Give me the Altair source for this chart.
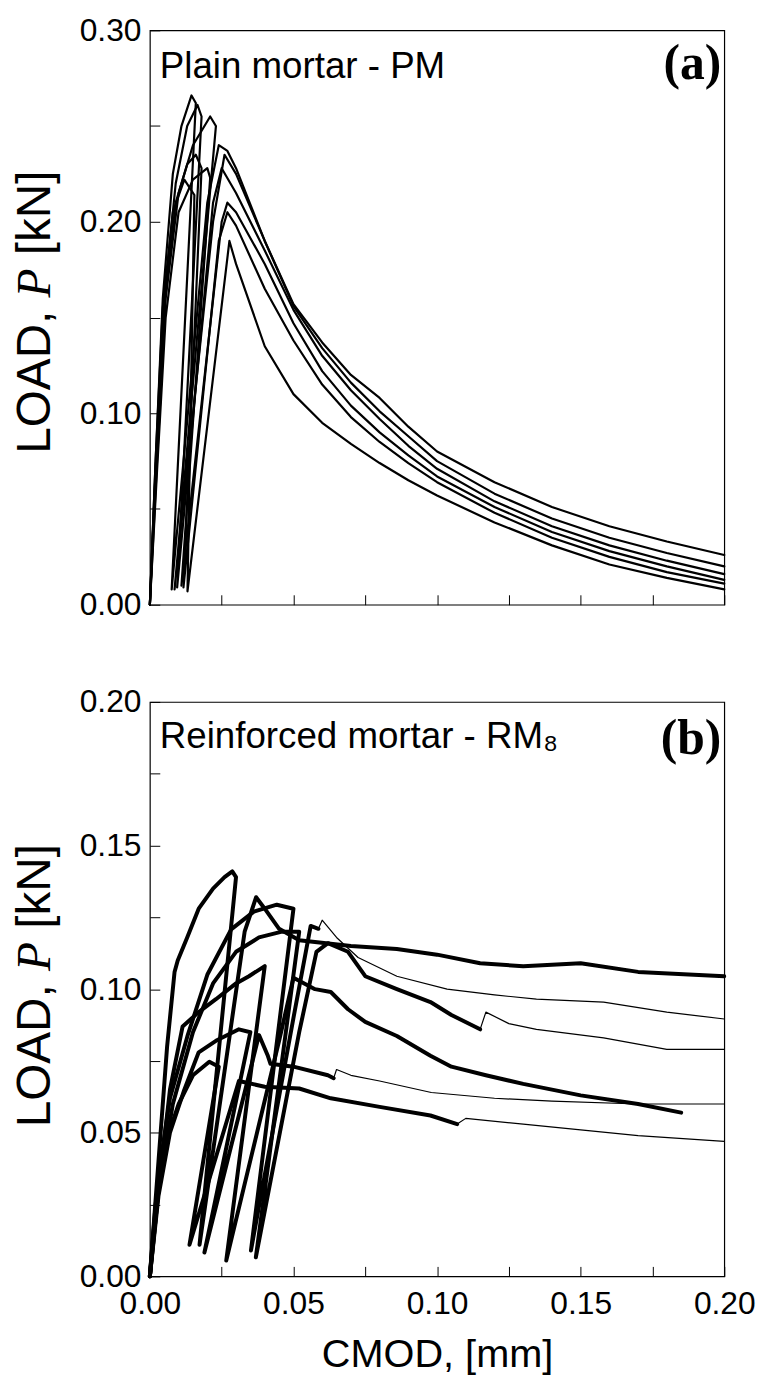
import altair as alt
import pandas as pd

# ---------------- Panel (a): Plain mortar - PM  (CMOD [mm], LOAD [kN]) ----------------
pm1_x = [0, 0.002, 0.0045, 0.008, 0.012, 0.0155, 0.0131, 0.0277, 0.03, 0.04, 0.05, 0.06, 0.07, 0.08, 0.09, 0.10, 0.12, 0.14, 0.16, 0.18, 0.20]
pm1_y = [0, 0.075, 0.155, 0.205, 0.222, 0.214, 0.007, 0.190, 0.178, 0.135, 0.110, 0.095, 0.084, 0.074, 0.065, 0.057, 0.043, 0.031, 0.021, 0.014, 0.008]

pm2_x = [0, 0.002, 0.005, 0.009, 0.013, 0.016, 0.018, 0.0117, 0.024, 0.027, 0.03, 0.04, 0.05, 0.06, 0.07, 0.08, 0.09, 0.10, 0.12, 0.14, 0.16, 0.18, 0.20]
pm2_y = [0, 0.070, 0.155, 0.210, 0.230, 0.235, 0.228, 0.009, 0.190, 0.205, 0.198, 0.165, 0.138, 0.115, 0.098, 0.085, 0.074, 0.064, 0.048, 0.035, 0.025, 0.017, 0.011]

pm3_x = [0, 0.0025, 0.0055, 0.010, 0.015, 0.020, 0.021, 0.011, 0.025, 0.027, 0.03, 0.04, 0.05, 0.06, 0.07, 0.08, 0.09, 0.10, 0.12, 0.14, 0.16, 0.18, 0.20]
pm3_y = [0, 0.070, 0.150, 0.205, 0.222, 0.228, 0.223, 0.010, 0.200, 0.210, 0.205, 0.178, 0.147, 0.122, 0.104, 0.090, 0.078, 0.067, 0.051, 0.038, 0.028, 0.020, 0.013]

pm4_x = [0, 0.002, 0.005, 0.009, 0.013, 0.0166, 0.018, 0.0095, 0.022, 0.025, 0.03, 0.04, 0.05, 0.06, 0.07, 0.08, 0.09, 0.10, 0.12, 0.14, 0.16, 0.18, 0.20]
pm4_y = [0, 0.070, 0.160, 0.220, 0.250, 0.261, 0.255, 0.009, 0.210, 0.228, 0.215, 0.185, 0.154, 0.130, 0.112, 0.097, 0.083, 0.071, 0.054, 0.041, 0.031, 0.023, 0.016]

pm5_x = [0, 0.0025, 0.0055, 0.010, 0.015, 0.021, 0.023, 0.0086, 0.022, 0.026, 0.03, 0.04, 0.05, 0.06, 0.07, 0.08, 0.09, 0.10, 0.12, 0.14, 0.16, 0.18, 0.20]
pm5_y = [0, 0.075, 0.160, 0.215, 0.240, 0.255, 0.250, 0.008, 0.200, 0.235, 0.225, 0.190, 0.156, 0.134, 0.116, 0.101, 0.088, 0.075, 0.058, 0.045, 0.035, 0.027, 0.020]

pm6_x = [0, 0.002, 0.0045, 0.008, 0.011, 0.0145, 0.016, 0.0076, 0.020, 0.024, 0.027, 0.03, 0.04, 0.05, 0.06, 0.07, 0.08, 0.09, 0.10, 0.12, 0.14, 0.16, 0.18, 0.20]
pm6_y = [0, 0.075, 0.160, 0.225, 0.250, 0.266, 0.262, 0.008, 0.210, 0.240, 0.237, 0.228, 0.190, 0.157, 0.137, 0.120, 0.108, 0.093, 0.080, 0.064, 0.051, 0.041, 0.033, 0.026]

# ---------------- Panel (b): Reinforced mortar - RM8 ----------------
rm1_x = [0, 0.003, 0.006, 0.0086, 0.0097, 0.013, 0.017, 0.022, 0.026, 0.0287, 0.030, 0.0173, 0.033, 0.037, 0.040, 0.045, 0.052, 0.070, 0.086, 0.100, 0.115, 0.130, 0.150, 0.170, 0.200]
rm1_y = [0, 0.040, 0.080, 0.106, 0.110, 0.118, 0.128, 0.135, 0.139, 0.141, 0.139, 0.011, 0.120, 0.132, 0.128, 0.121, 0.117, 0.115, 0.114, 0.112, 0.109, 0.108, 0.109, 0.106, 0.1045]

rm2_x = [0, 0.003, 0.007, 0.0131, 0.020, 0.0283, 0.0362, 0.0442, 0.050, 0.0352, 0.050, 0.056, 0.0587]
rm2_y = [0, 0.035, 0.062, 0.0837, 0.105, 0.1208, 0.127, 0.1294, 0.128, 0.009, 0.090, 0.122, 0.121]
rm2_thin_x = [0.0587, 0.060, 0.065, 0.0725, 0.086, 0.1035, 0.120, 0.1346, 0.158, 0.180, 0.200]
rm2_thin_y = [0.121, 0.124, 0.118, 0.111, 0.1045, 0.100, 0.098, 0.0965, 0.0955, 0.092, 0.0896]

rm3_x = [0, 0.003, 0.008, 0.015, 0.022, 0.030, 0.038, 0.046, 0.052, 0.0369, 0.052, 0.058, 0.062, 0.069, 0.075, 0.086, 0.0977, 0.105, 0.115]
rm3_y = [0, 0.030, 0.060, 0.085, 0.102, 0.113, 0.118, 0.120, 0.120, 0.0066, 0.085, 0.113, 0.116, 0.113, 0.1045, 0.100, 0.0955, 0.091, 0.086]
rm3_thin_x = [0.115, 0.117, 0.125, 0.1346, 0.158, 0.180, 0.200]
rm3_thin_y = [0.086, 0.092, 0.088, 0.086, 0.083, 0.079, 0.079]

rm4_x = [0, 0.003, 0.007, 0.0114, 0.017, 0.023, 0.030, 0.0345, 0.040, 0.0266, 0.045, 0.050, 0.0575, 0.063, 0.069, 0.075, 0.086, 0.0977, 0.105, 0.117, 0.130, 0.150, 0.170, 0.185]
rm4_y = [0, 0.030, 0.065, 0.087, 0.092, 0.0965, 0.102, 0.1045, 0.108, 0.0055, 0.082, 0.104, 0.100, 0.099, 0.093, 0.0886, 0.0837, 0.0768, 0.073, 0.070, 0.067, 0.063, 0.060, 0.057]

rm5_x = [0, 0.003, 0.007, 0.012, 0.017, 0.023, 0.031, 0.035, 0.019, 0.038, 0.041, 0.042, 0.050, 0.062, 0.064]
rm5_y = [0, 0.028, 0.050, 0.065, 0.078, 0.082, 0.086, 0.085, 0.0083, 0.084, 0.077, 0.074, 0.073, 0.070, 0.069]
rm5_thin_x = [0.064, 0.065, 0.070, 0.080, 0.098, 0.120, 0.140, 0.170, 0.200]
rm5_thin_y = [0.069, 0.072, 0.070, 0.068, 0.064, 0.062, 0.061, 0.060, 0.060]

rm6_x = [0, 0.002, 0.005, 0.010, 0.015, 0.0207, 0.024, 0.0138, 0.031, 0.040, 0.052, 0.063, 0.080, 0.0977, 0.107]
rm6_y = [0, 0.025, 0.045, 0.060, 0.070, 0.0747, 0.073, 0.011, 0.068, 0.066, 0.0654, 0.062, 0.059, 0.056, 0.053]
rm6_thin_x = [0.107, 0.110, 0.130, 0.150, 0.170, 0.200]
rm6_thin_y = [0.053, 0.055, 0.053, 0.051, 0.049, 0.047]

x_ticks = [0, 0.025, 0.05, 0.075, 0.10, 0.125, 0.15, 0.175, 0.20]
pm_y_ticks = [0, 0.05, 0.10, 0.15, 0.20, 0.25, 0.30]
rm_y_ticks = [0, 0.025, 0.05, 0.075, 0.10, 0.125, 0.15, 0.175, 0.20]

# ---------------- build tables ----------------
def build(series):
    rows = []
    for name, xs, ys in series:
        for i, (a, b) in enumerate(zip(xs, ys)):
            rows.append({"series": name, "i": i, "x": a, "y": b})
    return pd.DataFrame(rows)

pm_df = build([("pm1", pm1_x, pm1_y), ("pm2", pm2_x, pm2_y), ("pm3", pm3_x, pm3_y),
               ("pm4", pm4_x, pm4_y), ("pm5", pm5_x, pm5_y), ("pm6", pm6_x, pm6_y)])
rm_thick_df = build([("rm1", rm1_x, rm1_y), ("rm2", rm2_x, rm2_y), ("rm3", rm3_x, rm3_y),
                     ("rm4", rm4_x, rm4_y), ("rm5", rm5_x, rm5_y), ("rm6", rm6_x, rm6_y)])
rm_thin_df = build([("rm2t", rm2_thin_x, rm2_thin_y), ("rm3t", rm3_thin_x, rm3_thin_y),
                    ("rm5t", rm5_thin_x, rm5_thin_y), ("rm6t", rm6_thin_x, rm6_thin_y)])

SANS = "Liberation Sans"
SERIF = "Liberation Serif"
W = 579
H = 579
TS = 48  # y-title font size


def panel(dfs, ymax, yticks, ymult, label, letter, label_y, letter_y, show_x, title_center):
    x_axis = alt.Axis(
        values=x_ticks, offset=-10, tickSize=10, domain=False, grid=False,
        labels=show_x, labelFlush=False,
        labelExpr="abs(datum.value*20 - round(datum.value*20)) < 0.001 ? format(datum.value, '.2f') : ''",
        labelPadding=12, title="CMOD, [mm]" if show_x else None, titlePadding=16,
    )
    y_axis = alt.Axis(
        values=yticks, offset=-10, tickSize=10, domain=False, grid=False, labelFlush=False,
        labelExpr=f"abs(datum.value*{ymult} - round(datum.value*{ymult})) < 0.001 ? format(datum.value, '.2f') : ''",
        labelPadding=9, title=None,
    )
    xs = alt.Scale(domain=[0, 0.2], nice=False, zero=False)
    ys = alt.Scale(domain=[0, ymax], nice=False, zero=False)
    layers = []
    for df, sw in dfs:
        layers.append(
            alt.Chart(df).mark_line(color="black", strokeWidth=sw, strokeJoin="round", strokeCap="round").encode(
                x=alt.X("x:Q", scale=xs, axis=x_axis),
                y=alt.Y("y:Q", scale=ys, axis=y_axis),
                detail="series:N",
                order="i:Q",
            )
        )
    txt = alt.Chart(pd.DataFrame({"t": [label]})).mark_text(
        align="left", baseline="alphabetic", font=SANS, fontSize=37, color="black"
    ).encode(text="t:N", x=alt.value(10), y=alt.value(label_y))
    let = alt.Chart(pd.DataFrame({"t": [letter]})).mark_text(
        align="right", baseline="alphabetic", font=SERIF, fontSize=50, fontWeight="bold", color="black"
    ).encode(text="t:N", x=alt.value(576), y=alt.value(letter_y))
    # y-axis title "LOAD, P [kN]" with an italic serif P, written bottom-to-top
    y0 = title_center + 5.946 * TS / 2
    bx = -101
    t1 = alt.Chart(pd.DataFrame({"t": ["LOAD,"]})).mark_text(
        align="left", baseline="alphabetic", angle=270, font=SANS, fontSize=TS, color="black"
    ).encode(text="t:N", x=alt.value(bx), y=alt.value(y0))
    t2 = alt.Chart(pd.DataFrame({"t": ["P"]})).mark_text(
        align="left", baseline="alphabetic", angle=270, font=SERIF, fontStyle="italic", fontSize=TS, color="black"
    ).encode(text="t:N", x=alt.value(bx), y=alt.value(y0 - 3.279 * TS))
    t3 = alt.Chart(pd.DataFrame({"t": ["[kN]"]})).mark_text(
        align="left", baseline="alphabetic", angle=270, font=SANS, fontSize=TS, color="black"
    ).encode(text="t:N", x=alt.value(bx), y=alt.value(y0 - (3.279 + 0.611 + 0.278) * TS))
    return alt.layer(*layers, txt, let, t1, t2, t3).properties(width=W, height=H)


top = panel([(pm_df, 2.2)], 0.30, pm_y_ticks, 10, "Plain mortar - PM", "(a)", 48, 49, False, 284)
bottom = panel([(rm_thick_df, 4.0), (rm_thin_df, 1.2)], 0.20, rm_y_ticks, 20,
               "Reinforced mortar - RM\u2088", "(b)", 46, 52, True, 286)

chart = alt.vconcat(top, bottom, spacing=64).properties(
    padding={"left": 3, "top": 0, "right": 0, "bottom": 0}
).configure_axis(
    labelFont=SANS, labelFontSize=32, labelColor="black",
    titleFont=SANS, titleFontSize=40, titleFontWeight="normal", titleColor="black",
    tickColor="black", tickWidth=1,
).configure_view(stroke="black", strokeWidth=1.2)

chart.save("out.html", embed_options={"renderer": "svg", "actions": False})
